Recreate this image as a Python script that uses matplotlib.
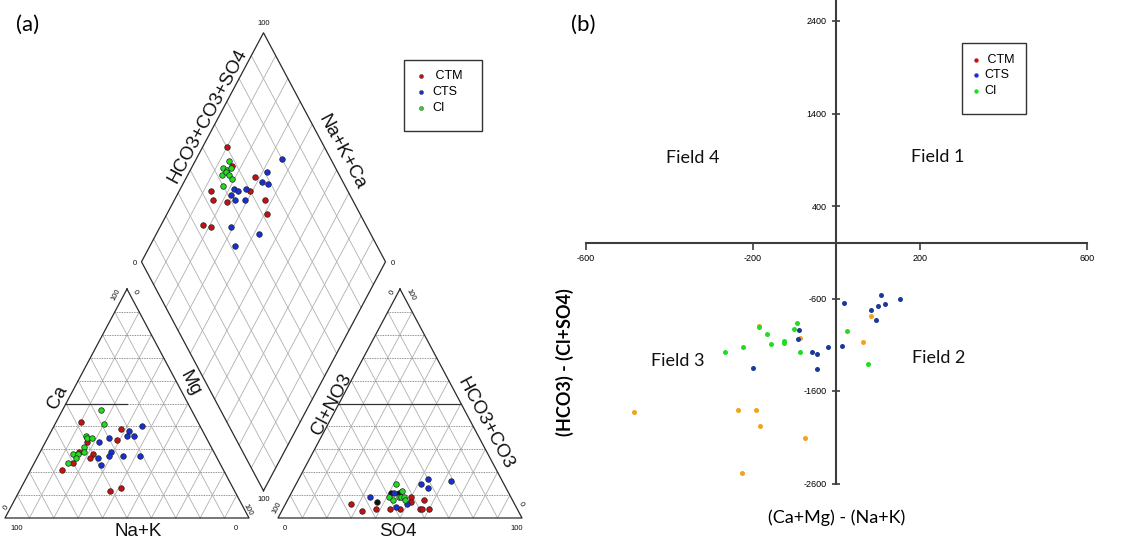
import matplotlib
matplotlib.use("Agg")
import matplotlib.pyplot as plt
import numpy as np
from matplotlib.patches import Rectangle

plt.rcParams["axes.unicode_minus"] = False

# ---------------- data : panel (a) Piper diagram (percent) ----------------
# cation triangle (Na+K = 100 - Ca - Mg)
cat_ctm_ca = [42, 39, 34, 33, 29, 24, 28, 26, 21, 12, 13]
cat_ctm_mg = [10, 28, 29, 17, 16, 16, 22, 22, 13, 37, 41]
cat_cts_ca = [40, 38, 36, 36, 35, 33, 29, 27, 27, 27, 26, 23]
cat_cts_mg = [36, 32, 32, 35, 25, 22, 29, 35, 42, 29, 25, 28]
cat_ci_ca = [47, 41, 36, 35, 35, 31, 29, 28, 28, 26, 24]
cat_ci_mg = [16, 20, 15, 16, 18, 17, 18, 14, 16, 16, 14]
# anion triangle (Cl+NO3 = 100 - HCO3+CO3 - SO4)
an_ctm_hco3 = [6, 3, 4, 4, 4, 9, 7, 4, 4, 4, 8]
an_ctm_so4 = [27, 33, 38, 44, 48, 50, 51, 56, 57, 60, 56]
an_oth_hco3 = [7, 11, 11]
an_oth_so4 = [37, 41, 44]
an_cts_hco3 = [9, 11, 5, 6, 15, 17, 13, 16]
an_cts_so4 = [33, 42, 46, 50, 51, 53, 55, 63]
an_ci_hco3 = [15, 12, 9, 8, 9, 9, 9, 8]
an_ci_so4 = [41, 45, 41, 43, 45, 46, 47, 48]
# diamond field
dm_ctm_nakca = [90, 84, 72, 87, 84, 78, 71, 63, 59, 83, 79]
dm_ctm_hco3so4 = [60, 58, 65, 44, 43, 48, 60, 64, 62, 33, 36]
dm_cts_nakca = [65, 68, 68, 65, 78, 76, 73, 78, 75, 71, 71, 58, 65]
dm_cts_hco3so4 = [80, 71, 67, 69, 54, 55, 59, 51, 52, 56, 44, 54, 42]
dm_ci_nakca = [86, 87, 85, 84, 86, 85, 83, 81, 83]
dm_ci_hco3so4 = [58, 54, 55, 57, 52, 54, 55, 55, 50]

# ---------------- data : panel (b) Chadha diagram ----------------
ch_ctm_x = [-184, -86, 82, 63, -484, -234, -191, -182, -74, -226]
ch_ctm_y = [-894, -1027, -789, -1067, -1830, -1805, -1805, -1982, -2105, -2490]
ch_cts_x = [18, 106, 153, 117, 101, 82, 95, -89, -92, -57, -46, -20, 14, -47, -199]
ch_cts_y = [-645, -566, -605, -660, -681, -728, -832, -944, -1038, -1178, -1200,
            -1121, -1110, -1362, -1351]
ch_ci_x = [-94, -100, -185, -166, -155, -125, -126, -87, -222, -267, 26, 77]
ch_ci_y = [-861, -930, -912, -987, -1088, -1056, -1081, -1178, -1121, -1182, -948, -1305]

ch_xticks = [-600, -200, 200, 600]
ch_yticks = [-2600, -1600, -600, 400, 1400, 2400]
legend_labels = [" CTM", "CTS", "CI"]

# ---------------- style ----------------
RED = "#c81010"
BLUE = "#1530d8"
GREEN = "#20dd20"
ORANGE = "#f2a31a"
NAVY = "#1b3a96"
SANS = ["Liberation Sans", "DejaVu Sans"]
CAL = ["Lato", "DejaVu Sans"]

fig = plt.figure(figsize=(11.26, 5.4), dpi=100)

# ======================= panel (a) =======================
axA = fig.add_axes([0, 0, 1, 1])
axA.set_xlim(0, 1126)
axA.set_ylim(540, 0)
axA.axis("off")

W, H, G = 244.0, 229.0, 29.0
X0, BASE = 5.0, 518.0
cat_apex = np.array([X0 + W / 2, BASE - H]); cat_bl = np.array([X0, BASE]); cat_br = np.array([X0 + W, BASE])
X1 = X0 + W + G
an_apex = np.array([X1 + W / 2, BASE - H]); an_bl = np.array([X1, BASE]); an_br = np.array([X1 + W, BASE])
d_bot = np.array([X0 + W + G / 2, BASE - G * H / W])
d_left = d_bot + np.array([-W / 2, -H])
d_right = d_bot + np.array([W / 2, -H])
d_top = d_bot + np.array([0, -2 * H])


def tern(apex, bl, br, wa, wl, wr):
    wa = np.asarray(wa, float); wl = np.asarray(wl, float); wr = np.asarray(wr, float)
    x = wa * apex[0] + wl * bl[0] + wr * br[0]
    y = wa * apex[1] + wl * bl[1] + wr * br[1]
    return x, y


def diam(a, b):
    a = np.asarray(a, float); b = np.asarray(b, float)
    p = d_bot[:, None] + np.outer(d_left - d_bot, a) + np.outer(d_right - d_bot, b)
    return p[0], p[1]


GRID_H = dict(color="#6e6e6e", lw=0.6, ls=(0, (1, 1)), zorder=1)
GRID_D = dict(color="#b0b0b0", lw=0.6, zorder=1)
EDGE = dict(color="#2a2a2a", lw=0.9, zorder=2)


def draw_triangle(apex, bl, br, bold_half):
    for k in range(1, 10):
        f = k / 10
        x, y = tern(apex, bl, br, [f, f], [1 - f, 0], [0, 1 - f])
        axA.plot(x, y, **GRID_H)
        x, y = tern(apex, bl, br, [0, 1 - f], [1 - f, 0], [f, f])
        axA.plot(x, y, **GRID_D)
        x, y = tern(apex, bl, br, [0, 1 - f], [f, f], [1 - f, 0])
        axA.plot(x, y, **GRID_D)
    x, y = tern(apex, bl, br, [1, 0, 0, 1], [0, 1, 0, 0], [0, 0, 1, 0])
    axA.plot(x, y, **EDGE)
    x, y = tern(apex, bl, br, [0.5, 0.5], bold_half[0], bold_half[1])
    axA.plot(x, y, color="#333333", lw=0.9, zorder=2)


draw_triangle(cat_apex, cat_bl, cat_br, ([0.5, 0.25], [0, 0.25]))
draw_triangle(an_apex, an_bl, an_br, ([0.5, 0], [0, 0.5]))

for k in range(1, 10):
    f = k / 10
    x, y = diam([f, f], [0, 1]); axA.plot(x, y, **GRID_D)
    x, y = diam([0, 1], [f, f]); axA.plot(x, y, **GRID_D)
x, y = diam([0, 1, 1, 0, 0], [0, 0, 1, 1, 0])
axA.plot(x, y, **EDGE)

MK = dict(marker="o", ms=4.0, mec="#222222", mew=0.5, ls="none", zorder=5)


def rest(p, q):
    return [100 - a - b for a, b in zip(p, q)]


for ca, mg, col in [(cat_ctm_ca, cat_ctm_mg, RED), (cat_cts_ca, cat_cts_mg, BLUE),
                    (cat_ci_ca, cat_ci_mg, GREEN)]:
    x, y = tern(cat_apex, cat_bl, cat_br, np.array(ca) / 100, np.array(rest(ca, mg)) / 100, np.array(mg) / 100)
    axA.plot(x, y, mfc=col, **MK)

for hc, so, col in [(an_ctm_hco3, an_ctm_so4, RED), (an_oth_hco3, an_oth_so4, "#111111"),
                    (an_cts_hco3, an_cts_so4, BLUE), (an_ci_hco3, an_ci_so4, GREEN)]:
    x, y = tern(an_apex, an_bl, an_br, np.array(hc) / 100, np.array(rest(hc, so)) / 100, np.array(so) / 100)
    axA.plot(x, y, mfc=col, **MK)

for a, b, col in [(dm_ctm_nakca, dm_ctm_hco3so4, RED), (dm_cts_nakca, dm_cts_hco3so4, BLUE),
                  (dm_ci_nakca, dm_ci_hco3so4, GREEN)]:
    x, y = diam(np.array(a) / 100, np.array(b) / 100)
    axA.plot(x, y, mfc=col, **MK)

ANG = np.degrees(np.arctan2(H, W / 2))
LBL = dict(fontsize=13.5, family=SANS, ha="center", va="center", color="#111111")
axA.text(58, 397, "Ca", rotation=ANG, **LBL)
axA.text(190, 383, "Mg", rotation=-ANG, **LBL)
axA.text(138, 531, "Na+K", **LBL)
axA.text(208, 116, "HCO3+CO3+SO4", rotation=ANG, **LBL)
axA.text(342, 152, "Na+K+Ca", rotation=-ANG, **LBL)
axA.text(332, 404, "Cl+NO3", rotation=ANG, **LBL)
axA.text(485, 424, "HCO3+CO3", rotation=-ANG, **LBL)
axA.text(398, 531, "SO4", **LBL)

TK = dict(fontsize=5.5, family=SANS, ha="center", va="center", color="#111111")
axA.text(cat_apex[0] - 11, cat_apex[1] + 6, "100", rotation=ANG, **TK)
axA.text(cat_apex[0] + 8, cat_apex[1] + 3, "0", rotation=-ANG, **TK)
axA.text(cat_bl[0] + 1, cat_bl[1] - 11, "0", rotation=ANG, **TK)
axA.text(cat_bl[0] + 12, cat_bl[1] + 10, "100", **TK)
axA.text(cat_br[0] - 13, cat_br[1] + 10, "0", **TK)
axA.text(cat_br[0] - 1, cat_br[1] - 8, "100", rotation=-ANG, **TK)
axA.text(an_apex[0] - 8, an_apex[1] + 3, "0", rotation=ANG, **TK)
axA.text(an_apex[0] + 11, an_apex[1] + 6, "100", rotation=-ANG, **TK)
axA.text(an_bl[0] - 1, an_bl[1] - 10, "100", rotation=ANG, **TK)
axA.text(an_bl[0] + 7, an_bl[1] + 10, "0", **TK)
axA.text(an_br[0] - 1, an_br[1] - 14, "0", rotation=-ANG, **TK)
axA.text(an_br[0] - 5, an_br[1] + 10, "100", **TK)
axA.text(d_top[0], d_top[1] - 9, "100", **TK)
axA.text(d_left[0] - 7, d_left[1] + 2, "0", **TK)
axA.text(d_right[0] + 7, d_right[1] + 2, "0", **TK)
axA.text(d_bot[0], d_bot[1] + 9, "100", **TK)

axA.text(28, 25, "(a)", fontsize=16, family=CAL, ha="center", va="center")
axA.text(583, 25, "(b)", fontsize=16, family=CAL, ha="center", va="center")


def box_legend(x0, y0, w, h, dot_x, text_x, ys, colors, fs, ms, edge):
    axA.add_patch(Rectangle((x0, y0), w, h, fill=True, fc="white", ec="#333333", lw=1.0, zorder=6))
    for y, c, lab in zip(ys, colors, legend_labels):
        axA.plot([dot_x], [y], marker="o", ms=ms, mfc=c, mec=edge or c, mew=0.3, ls="none", zorder=7)
        axA.text(text_x, y, lab, fontsize=fs, family=SANS, ha="left", va="center", zorder=7)


box_legend(404, 60, 78, 71, 421, 432, [76, 92, 108], [RED, BLUE, GREEN], 9, 3.0, "#444444")
box_legend(962, 43, 64, 71, 976, 984, [60, 75, 91], [RED, BLUE, GREEN], 9, 2.8, None)

# ======================= panel (b) =======================
axB = fig.add_axes([585.5 / 1126, (540 - 483.5) / 540, (1087 - 585.5) / 1126, 481 / 540])
axB.patch.set_alpha(0)
axB.set_xlim(-600, 600)
axB.set_ylim(-2600, 2600)
for s in ("top", "right"):
    axB.spines[s].set_visible(False)
axB.spines["left"].set_position("zero")
axB.spines["bottom"].set_position("zero")
for s in ("left", "bottom"):
    axB.spines[s].set_color("#3d3d3d")
    axB.spines[s].set_linewidth(1.5)
axB.spines["left"].set_bounds(-2600, 2650)
axB.set_xticks(ch_xticks)
axB.set_yticks(ch_yticks)
axB.tick_params(axis="x", direction="out", length=5, width=1.2, color="#3d3d3d",
                labelsize=6.5, pad=3)
axB.tick_params(axis="y", direction="inout", length=6, width=1.2, color="#3d3d3d",
                labelsize=6.5, pad=4)
for t in axB.get_xticklabels() + axB.get_yticklabels():
    t.set_family(SANS)

MS = dict(marker="o", ms=3.6, ls="none", mew=0, zorder=5)
axB.plot(ch_ctm_x, ch_ctm_y, color=ORANGE, **MS)
axB.plot(ch_cts_x, ch_cts_y, color=NAVY, **MS)
axB.plot(ch_ci_x, ch_ci_y, color=GREEN, **MS)

FL = dict(fontsize=13, family=CAL, ha="center", va="center", color="#111111")
axA.text(693, 158, "Field 4", **FL)
axA.text(938, 157, "Field 1", **FL)
axA.text(678, 361, "Field 3", **FL)
axA.text(939, 358, "Field 2", **FL)
axA.text(837, 518, "(Ca+Mg) - (Na+K)", fontsize=13, family=CAL, ha="center", va="center")
axA.text(565, 362, "(HCO3) - (Cl+SO4)", fontsize=13, family=CAL, ha="center", va="center",
         rotation=90, fontweight="bold")

fig.savefig("out.png", dpi=100)
